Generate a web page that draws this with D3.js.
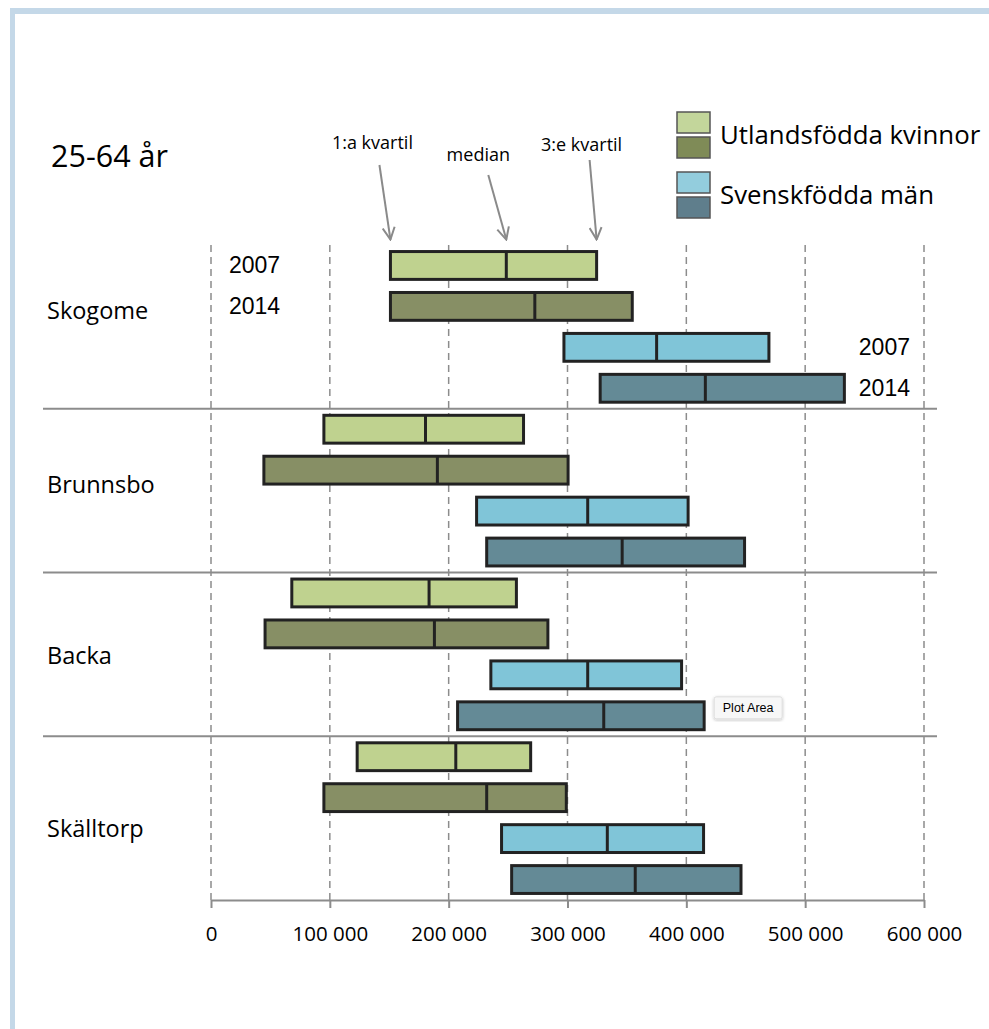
<!DOCTYPE html>
<html>
<head>
<meta charset="utf-8">
<script src="https://cdn.jsdelivr.net/npm/d3@7"></script>
<style>
  body { margin: 0; background: #fff; }
  text { font-family: "Open Sans", sans-serif; fill: #000; }
  .yr { font-family: "Liberation Sans", Arial, sans-serif; }
</style>
</head>
<body>
<div class="canvas"></div>
<script>
const districts = ['Skogome', 'Brunnsbo', 'Backa', 'Skälltorp'];
const seriesNames = ['Utlandsfödda kvinnor 2007', 'Utlandsfödda kvinnor 2014', 'Svenskfödda män 2007', 'Svenskfödda män 2014'];
// [1:a kvartil, median, 3:e kvartil] per district
const kvinnor2007 = [[151000, 248500, 324500], [95000, 180500, 263000], [68000, 183500, 257000], [123000, 206000, 269000]];
const kvinnor2014 = [[151000, 272500, 354500], [44500, 190500, 300500], [45500, 188000, 283500], [95000, 232000, 299000]];
const man2007 = [[297000, 375000, 469500], [223500, 317000, 401500], [235500, 317000, 396000], [244500, 333500, 414500]];
const man2014 = [[327500, 416000, 533000], [232000, 346000, 449000], [207500, 330500, 415000], [253000, 357000, 446000]];
const xTicks = [0, 100000, 200000, 300000, 400000, 500000, 600000];
const legendNames = ['Utlandsfödda kvinnor', 'Svenskfödda män'];
const years = ['2007', '2014'];

const colors = ['#bfd28f', '#878f65', '#80c5d8', '#648a96'];
const legendColors = ['#c3d69b', '#7f8b57', '#93cddd', '#5f7e8c'];

const dims = {width: 989, height: 1029};
const plot = {left: 211, right: 924, top: 245, bottom: 900};

const svg = d3.select('.canvas').append('svg')
  .attr('width', dims.width)
  .attr('height', dims.height);

const defs = svg.append('defs');
defs.append('marker')
  .attr('id', 'arr')
  .attr('viewBox', '0 0 14 14')
  .attr('refX', 13).attr('refY', 7)
  .attr('markerWidth', 14).attr('markerHeight', 14)
  .attr('markerUnits', 'userSpaceOnUse')
  .attr('orient', 'auto')
  .append('path')
  .attr('d', 'M1,1 L13,7 L1,13')
  .attr('fill', 'none')
  .attr('stroke', '#8a8a8a')
  .attr('stroke-width', 2);
defs.append('filter').attr('id', 'shadow')
  .append('feDropShadow')
  .attr('dx', 0).attr('dy', 1).attr('stdDeviation', 1.5)
  .attr('flood-color', '#000').attr('flood-opacity', 0.25);

// frame
svg.append('rect').attr('x', 10).attr('y', 8).attr('width', dims.width - 10).attr('height', 6).attr('fill', '#c4d8e8');
svg.append('rect').attr('x', 10).attr('y', 8).attr('width', 5).attr('height', dims.height - 8).attr('fill', '#c4d8e8');

const x = d3.scaleLinear().domain([0, 600000]).range([plot.left, plot.right]);
const y0 = d3.scaleBand().domain(districts).range([plot.top, plot.bottom]);
const y1 = d3.scaleBand().domain(seriesNames).range([0, y0.bandwidth()])
  .paddingInner(0.32).paddingOuter(0.16);

const allSeries = [kvinnor2007, kvinnor2014, man2007, man2014];
const rows = [];
districts.forEach((d, i) => {
  seriesNames.forEach((s, j) => {
    const v = allSeries[j][i];
    rows.push({district: d, series: s, idx: j, q1: v[0], med: v[1], q3: v[2]});
  });
});
const rowY = r => y0(r.district) + y1(r.series);

// grid
svg.append('g').selectAll('line').data(xTicks).enter().append('line')
  .attr('x1', d => x(d)).attr('x2', d => x(d))
  .attr('y1', plot.top).attr('y2', plot.bottom)
  .attr('stroke', '#8c8c8c').attr('stroke-width', 1.5)
  .attr('stroke-dasharray', '7,5');

// group separators
svg.append('g').selectAll('line').data(districts.slice(1)).enter().append('line')
  .attr('x1', 43).attr('x2', 937)
  .attr('y1', d => y0(d)).attr('y2', d => y0(d))
  .attr('stroke', '#8c8c8c').attr('stroke-width', 2);

// axis
const axis = svg.append('g')
  .attr('transform', `translate(0,${plot.bottom})`)
  .call(d3.axisBottom(x).tickValues(xTicks).tickSize(8).tickSizeOuter(0)
    .tickFormat(d => d3.format(',')(d).replace(/,/g, ' ')));
axis.select('.domain').attr('stroke', '#8c8c8c').attr('stroke-width', 2);
axis.selectAll('.tick line').attr('stroke', '#8c8c8c').attr('stroke-width', 2);
axis.selectAll('.tick text')
  .attr('y', 26)
  .style('font-family', '"Open Sans", sans-serif')
  .style('font-size', '20.5px')
  .attr('fill', '#000');

// boxes
const boxes = svg.append('g').selectAll('g').data(rows).enter().append('g');
boxes.append('rect')
  .attr('x', d => x(d.q1))
  .attr('y', d => rowY(d))
  .attr('width', d => x(d.q3) - x(d.q1))
  .attr('height', y1.bandwidth())
  .attr('fill', d => colors[d.idx])
  .attr('stroke', '#222')
  .attr('stroke-width', 3);
boxes.append('line')
  .attr('x1', d => x(d.med)).attr('x2', d => x(d.med))
  .attr('y1', d => rowY(d)).attr('y2', d => rowY(d) + y1.bandwidth())
  .attr('stroke', '#222').attr('stroke-width', 3);

// district labels
const labelDy = [-16, -6, 2, 11];
svg.append('g').selectAll('text').data(districts).enter().append('text')
  .attr('x', 47)
  .attr('y', (d, i) => y0(d) + y0.bandwidth() / 2 + labelDy[i] + 8)
  .style('font-size', '23.5px')
  .text(d => d);

// year labels for first group
const first = rows.filter(r => r.district === districts[0]);
svg.append('g').selectAll('text').data(first).enter().append('text')
  .attr('class', 'yr')
  .attr('x', d => d.idx < 2 ? x(0) + 18 : x(600000) - 14)
  .attr('text-anchor', d => d.idx < 2 ? 'start' : 'end')
  .attr('y', d => rowY(d) + y1.bandwidth() / 2 + 8)
  .style('font-size', '23px')
  .text(d => years[d.idx % 2]);

// title
svg.append('text').attr('x', 51).attr('y', 167).style('font-size', '30.5px').text('25-64 år');

// quartile annotations, pointing at first box
const notes = [
  {text: '1:a kvartil', key: 'q1', tx: -18, ty: 149, sx: -11, sy: 165},
  {text: 'median', key: 'med', tx: -28, ty: 161, sx: -18, sy: 175},
  {text: '3:e kvartil', key: 'q3', tx: -15, ty: 151, sx: -7, sy: 160}
];
const r0 = first[0];
const ann = svg.append('g').selectAll('g').data(notes).enter().append('g');
ann.append('text')
  .attr('x', d => x(r0[d.key]) + d.tx)
  .attr('y', d => d.ty)
  .attr('text-anchor', 'middle')
  .style('font-size', '18px')
  .text(d => d.text);
ann.append('line')
  .attr('x1', d => x(r0[d.key]) + d.sx).attr('y1', d => d.sy)
  .attr('x2', d => x(r0[d.key])).attr('y2', d => rowY(r0) - 12)
  .attr('stroke', '#8a8a8a').attr('stroke-width', 2)
  .attr('marker-end', 'url(#arr)');

// legend
const legend = svg.append('g').attr('transform', 'translate(677,112)');
legendColors.forEach((c, i) => {
  legend.append('rect')
    .attr('x', 0).attr('y', i * 25 + (i > 1 ? 10 : 0))
    .attr('width', 33).attr('height', 21)
    .attr('fill', c).attr('stroke', '#555').attr('stroke-width', 1.5);
});
legend.selectAll('text').data(legendNames).enter().append('text')
  .attr('x', 43)
  .attr('y', (d, i) => i * 60 + 32)
  .style('font-size', '25.8px')
  .text(d => d);

// "Plot Area" tooltip
const tipRow = rows.find(r => r.district === 'Backa' && r.idx === 3);
const tip = svg.append('g')
  .attr('transform', `translate(${x(tipRow.q3) + 10},${rowY(tipRow) - 5})`);
tip.append('rect').attr('width', 68).attr('height', 22).attr('rx', 2)
  .attr('fill', '#f7f7f7').attr('stroke', '#ddd').attr('filter', 'url(#shadow)');
tip.append('text').attr('x', 34).attr('y', 15.5).attr('text-anchor', 'middle')
  .style('font-family', '"Liberation Sans", Arial, sans-serif').style('font-size', '12.5px')
  .text('Plot Area');
</script>
</body>
</html>
